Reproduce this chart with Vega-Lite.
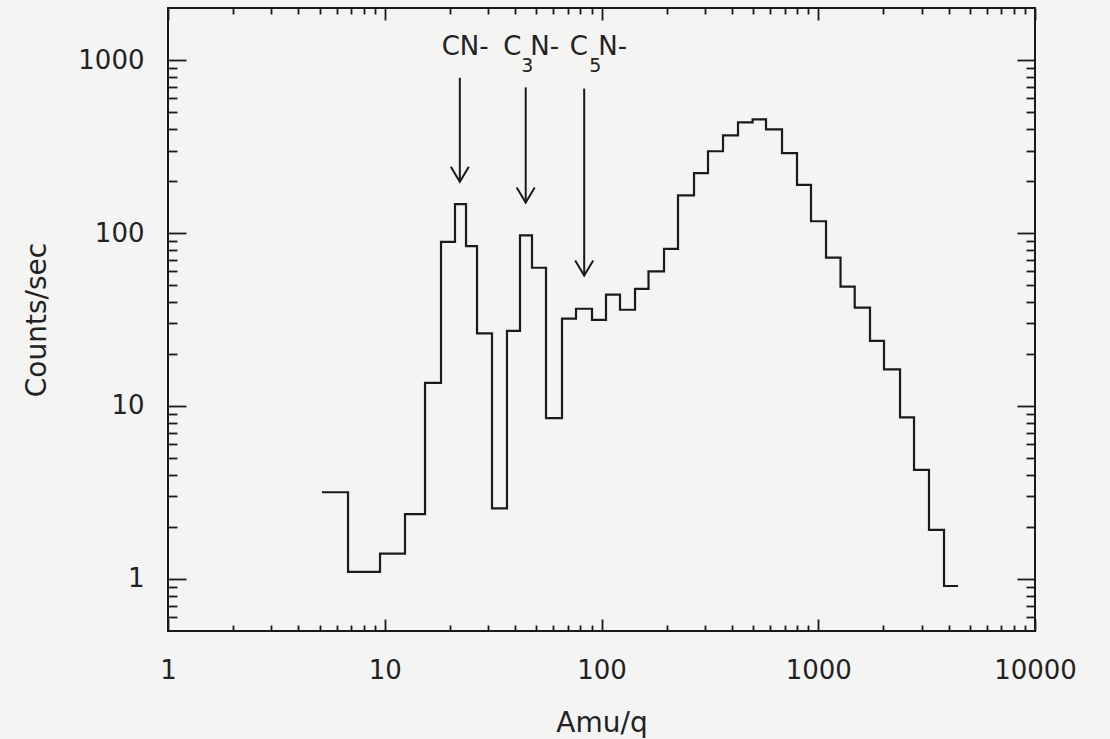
{
  "$schema": "https://vega.github.io/schema/vega-lite/v6.json",
  "width": 867,
  "height": 623,
  "autosize": {"type": "none"},
  "padding": {"left": 168, "top": 8, "right": 75, "bottom": 108},
  "background": "#f4f4f2",
  "view": {"stroke": "#1a1a1a", "strokeWidth": 2},
  "config": {
    "font": "DejaVu Sans",
    "axis": {
      "domain": false,
      "grid": false,
      "labelFont": "DejaVu Sans",
      "labelFontSize": 26,
      "labelColor": "#222222",
      "labelFlush": false,
      "labelOverlap": false,
      "titleFont": "DejaVu Sans",
      "titleFontSize": 28,
      "titleFontWeight": "normal",
      "titleColor": "#222222",
      "tickColor": "#1a1a1a",
      "tickWidth": 1.8
    }
  },
  "datasets": {
    "hist": [
      {"amu": 5.13, "rate": 3.17},
      {"amu": 6.77, "rate": 1.10},
      {"amu": 9.51, "rate": 1.40},
      {"amu": 12.40, "rate": 2.37},
      {"amu": 15.34, "rate": 13.6},
      {"amu": 18.18, "rate": 89},
      {"amu": 21.09, "rate": 147},
      {"amu": 23.71, "rate": 84},
      {"amu": 26.65, "rate": 26.3},
      {"amu": 31.25, "rate": 2.56},
      {"amu": 36.64, "rate": 27.2},
      {"amu": 42.07, "rate": 97},
      {"amu": 47.79, "rate": 63},
      {"amu": 55.46, "rate": 8.5},
      {"amu": 65.73, "rate": 32},
      {"amu": 76.27, "rate": 36.5},
      {"amu": 90.41, "rate": 31.5},
      {"amu": 104.9, "rate": 44},
      {"amu": 121.7, "rate": 36},
      {"amu": 142.8, "rate": 47.5},
      {"amu": 164.8, "rate": 60},
      {"amu": 194.3, "rate": 81},
      {"amu": 225.4, "rate": 165},
      {"amu": 267.2, "rate": 222},
      {"amu": 310, "rate": 297},
      {"amu": 363.6, "rate": 367},
      {"amu": 426.4, "rate": 436},
      {"amu": 497.9, "rate": 454},
      {"amu": 574.1, "rate": 397},
      {"amu": 680.6, "rate": 290},
      {"amu": 798, "rate": 190},
      {"amu": 926, "rate": 117},
      {"amu": 1086, "rate": 72},
      {"amu": 1267, "rate": 49},
      {"amu": 1473, "rate": 37},
      {"amu": 1733, "rate": 23.8},
      {"amu": 2011, "rate": 16.3},
      {"amu": 2384, "rate": 8.6},
      {"amu": 2766, "rate": 4.27},
      {"amu": 3243, "rate": 1.92},
      {"amu": 3804, "rate": 0.91},
      {"amu": 4415, "rate": 0.91}
    ],
    "arrows": [
      {"species": "CN-", "amu": 22.2, "top": 790, "tip": 198},
      {"species": "C3N-", "amu": 44.7, "top": 695, "tip": 150},
      {"species": "C5N-", "amu": 83.2, "top": 684, "tip": 56.8}
    ],
    "labels": [
      {"text": "CN-", "kind": "main", "amu": 18.31, "rate": 1069},
      {"text": "C", "kind": "main", "amu": 35.2, "rate": 1069},
      {"text": "3", "kind": "sub", "amu": 42.6, "rate": 852},
      {"text": "N-", "kind": "main", "amu": 46.9, "rate": 1069},
      {"text": "C", "kind": "main", "amu": 71.3, "rate": 1069},
      {"text": "5", "kind": "sub", "amu": 87.8, "rate": 852},
      {"text": "N-", "kind": "main", "amu": 96.6, "rate": 1069}
    ]
  },
  "resolve": {"axis": {"x": "independent", "y": "independent"}},
  "layer": [
    {
      "data": {"name": "hist"},
      "mark": {"type": "line", "interpolate": "step-after", "stroke": "#1a1a1a", "strokeWidth": 2.2},
      "encoding": {
        "x": {
          "field": "amu", "type": "quantitative",
          "scale": {"type": "log", "domain": [1, 10000]},
          "axis": {"orient": "bottom", "values": [1, 10, 100, 1000, 10000], "format": "d", "tickSize": -12, "labelPadding": 38, "title": "Amu/q", "titlePadding": 26}
        },
        "y": {
          "field": "rate", "type": "quantitative",
          "scale": {"type": "log", "domain": [0.5, 2000]},
          "axis": {"orient": "left", "values": [1, 10, 100, 1000], "format": "d", "tickSize": -18, "labelPadding": 42, "title": "Counts/sec", "titlePadding": 26}
        }
      }
    },
    {
      "data": {"name": "arrows"},
      "mark": {"type": "rule", "stroke": "#1a1a1a", "strokeWidth": 2},
      "encoding": {
        "x": {
          "field": "amu", "type": "quantitative",
          "scale": {"type": "log", "domain": [1, 10000]},
          "axis": {"orient": "bottom", "values": [2, 3, 4, 5, 6, 7, 8, 9, 20, 30, 40, 50, 60, 70, 80, 90, 200, 300, 400, 500, 600, 700, 800, 900, 2000, 3000, 4000, 5000, 6000, 7000, 8000, 9000], "labels": false, "tickSize": -6, "title": null}
        },
        "y": {
          "field": "top", "type": "quantitative",
          "scale": {"type": "log", "domain": [0.5, 2000]},
          "axis": {"orient": "left", "values": [0.6, 0.7, 0.8, 0.9, 2, 3, 4, 5, 6, 7, 8, 9, 20, 30, 40, 50, 60, 70, 80, 90, 200, 300, 400, 500, 600, 700, 800, 900], "labels": false, "tickSize": -9, "title": null}
        },
        "y2": {"field": "tip"}
      }
    },
    {
      "data": {"name": "arrows"},
      "mark": {"type": "point", "shape": "M-0.6,-1L0,0L0.6,-1", "size": 900, "filled": false, "stroke": "#1a1a1a", "strokeWidth": 2, "opacity": 1},
      "encoding": {
        "x": {
          "field": "amu", "type": "quantitative",
          "scale": {"type": "log", "domain": [1, 10000]},
          "axis": {"orient": "top", "values": [1, 10, 100, 1000, 10000], "labels": false, "tickSize": -12, "title": null}
        },
        "y": {
          "field": "tip", "type": "quantitative",
          "scale": {"type": "log", "domain": [0.5, 2000]},
          "axis": {"orient": "right", "values": [1, 10, 100, 1000], "labels": false, "tickSize": -18, "title": null}
        }
      }
    },
    {
      "data": {"name": "labels"},
      "transform": [{"filter": "datum.kind == 'main'"}],
      "mark": {"type": "text", "font": "DejaVu Sans", "fontSize": 26, "align": "left", "baseline": "alphabetic", "fill": "#222222"},
      "encoding": {
        "x": {
          "field": "amu", "type": "quantitative",
          "scale": {"type": "log", "domain": [1, 10000]},
          "axis": {"orient": "top", "values": [2, 3, 4, 5, 6, 7, 8, 9, 20, 30, 40, 50, 60, 70, 80, 90, 200, 300, 400, 500, 600, 700, 800, 900, 2000, 3000, 4000, 5000, 6000, 7000, 8000, 9000], "labels": false, "tickSize": -6, "title": null}
        },
        "y": {
          "field": "rate", "type": "quantitative",
          "scale": {"type": "log", "domain": [0.5, 2000]},
          "axis": {"orient": "right", "values": [0.6, 0.7, 0.8, 0.9, 2, 3, 4, 5, 6, 7, 8, 9, 20, 30, 40, 50, 60, 70, 80, 90, 200, 300, 400, 500, 600, 700, 800, 900], "labels": false, "tickSize": -9, "title": null}
        },
        "text": {"field": "text"}
      }
    },
    {
      "data": {"name": "labels"},
      "transform": [{"filter": "datum.kind == 'sub'"}],
      "mark": {"type": "text", "font": "DejaVu Sans", "fontSize": 19, "align": "left", "baseline": "alphabetic", "fill": "#222222"},
      "encoding": {
        "x": {"field": "amu", "type": "quantitative", "scale": {"type": "log", "domain": [1, 10000]}, "axis": null},
        "y": {"field": "rate", "type": "quantitative", "scale": {"type": "log", "domain": [0.5, 2000]}, "axis": null},
        "text": {"field": "text"}
      }
    }
  ]
}
